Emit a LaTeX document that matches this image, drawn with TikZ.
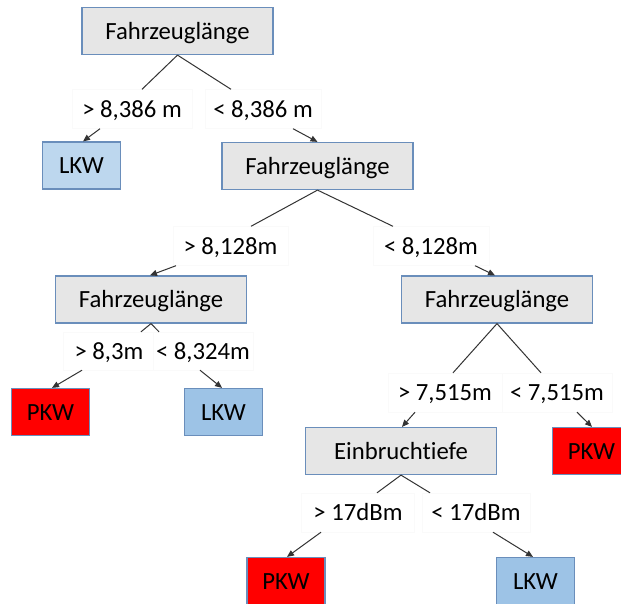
\documentclass[tikz,border=0pt]{standalone}
\usepackage{fontspec}
\setmainfont{Carlito}[Ligatures=NoCommon]
\usetikzlibrary{arrows.meta}
\definecolor{boxgray}{HTML}{E6E6E6}
\definecolor{boxedge}{HTML}{6A8EBB}
\definecolor{lkwlight}{HTML}{BDD7EE}
\definecolor{lkwblue}{HTML}{9DC3E6}
\definecolor{pkwred}{HTML}{FF0000}
\definecolor{linecol}{HTML}{333333}
\definecolor{faint}{HTML}{FAFAFA}
\tikzset{
  x=1pt, y=-1pt,
  every node/.style={font=\fontsize{24.7pt}{28pt}\selectfont, inner sep=0pt, text height=16pt, text depth=0pt},
  featbox/.style={draw=boxedge, line width=1.2pt, fill=boxgray, minimum width=191pt, minimum height=47pt},
  leafbox/.style={draw=boxedge, line width=1.2pt, minimum width=78pt, minimum height=47pt},
  lkwA/.style={leafbox, fill=lkwlight},
  lkwB/.style={leafbox, fill=lkwblue},
  pkwbox/.style={leafbox, fill=pkwred},
  labelbox/.style={fill=white, draw=faint, line width=0.4pt, minimum height=39pt},
  edgeline/.style={draw=linecol, line width=1pt},
  arrowline/.style={draw=linecol, line width=1pt, -{Triangle[length=7pt,width=6pt]}}
}
\begin{document}
\begin{tikzpicture}
\clip (0,0) rectangle (621,603);
\fill[white] (0,0) rectangle (621,603);

% nodes
\node[featbox] (root) at (177.5,31) {Fahrzeuglänge};
\node[labelbox, minimum width=120pt] (l1) at (132,109) {> 8,386 m};
\node[labelbox, minimum width=116pt] (r1) at (263,109) {< 8,386 m};
\node[lkwA] (lkw1) at (81.5,165.5) {LKW};
\node[featbox] (f2) at (317.5,166) {Fahrzeuglänge};
\node[labelbox, minimum width=115pt] (l2) at (230.5,246) {> 8,128m};
\node[labelbox, minimum width=116pt] (r2) at (431,246) {< 8,128m};
\node[featbox] (f3) at (151,299.5) {Fahrzeuglänge};
\node[featbox] (f4) at (497,299.5) {Fahrzeuglänge};
\node[pkwbox] (pkw1) at (50.5,412) {PKW};
\node[lkwB] (lkw2) at (223.5,412) {LKW};
\node[featbox] (ein) at (401,451) {Einbruchtiefe};
\node[pkwbox] (pkw2) at (591.5,451) {PKW};
\node[pkwbox] (pkw3) at (286,581) {PKW};
\node[lkwB] (lkw3) at (535.5,581) {LKW};

% plain branch lines (drawn before labels so labels cover them)
\draw[edgeline] (root.south) -- ([xshift=10pt]l1.north);
\draw[edgeline] (root.south) -- ([xshift=-32pt]r1.north);
\draw[edgeline] (f2.south) -- ([xshift=20.5pt]l2.north);
\draw[edgeline] (f2.south) -- ([xshift=-38pt]r2.north);

\node[labelbox, minimum width=92pt, minimum height=38pt] (l3) at (109,351) {> 8,3m};
\node[labelbox, minimum width=100pt, minimum height=38pt] (r3) at (203,351) {< 8,324m};
\node[labelbox, minimum width=114pt] (l4) at (445,392.5) {> 7,515m};
\node[labelbox, minimum width=110pt] (r4) at (557,392.5) {< 7,515m};
\node[labelbox, minimum width=113pt] (l5) at (358,512.5) {> 17dBm};
\node[labelbox, minimum width=108pt] (r5) at (476,512.5) {< 17dBm};

\draw[edgeline] (f3.south) -- ([xshift=32pt]l3.north);
\draw[edgeline] (f3.south) -- ([xshift=-44pt]r3.north);
\draw[edgeline] (f4.south) -- ([xshift=8pt]l4.north);
\draw[edgeline] (f4.south) -- ([xshift=-16pt]r4.north);
\draw[edgeline] (ein.south) -- ([xshift=19pt]l5.north);
\draw[edgeline] (ein.south) -- ([xshift=-46pt]r5.north);

% arrows
\draw[arrowline] ([xshift=-32pt]l1.south) -- ([xshift=1.5pt]lkw1.north);
\draw[arrowline] ([xshift=30pt]r1.south) -- (f2.north);
\draw[arrowline] ([xshift=-54.5pt]l2.south) -- ([xshift=-1pt]f3.north);
\draw[arrowline] ([xshift=44pt]r2.south) -- ([xshift=-2pt]f4.north);
\draw[arrowline] ([xshift=-27pt]l3.south) -- ([xshift=1.5pt]pkw1.north);
\draw[arrowline] ([xshift=-3pt]r3.south) -- ([xshift=-1.5pt]lkw2.north);
\draw[arrowline] ([xshift=-30pt]l4.south) -- ([xshift=1pt]ein.north);
\draw[arrowline] ([xshift=20pt]r4.south) -- ([xshift=0.5pt]pkw2.north);
\draw[arrowline] ([xshift=-37pt]l5.south) -- ([xshift=1pt]pkw3.north);
\draw[arrowline] ([xshift=17pt]r5.south) -- ([xshift=-2.5pt]lkw3.north);
\end{tikzpicture}
\end{document}
